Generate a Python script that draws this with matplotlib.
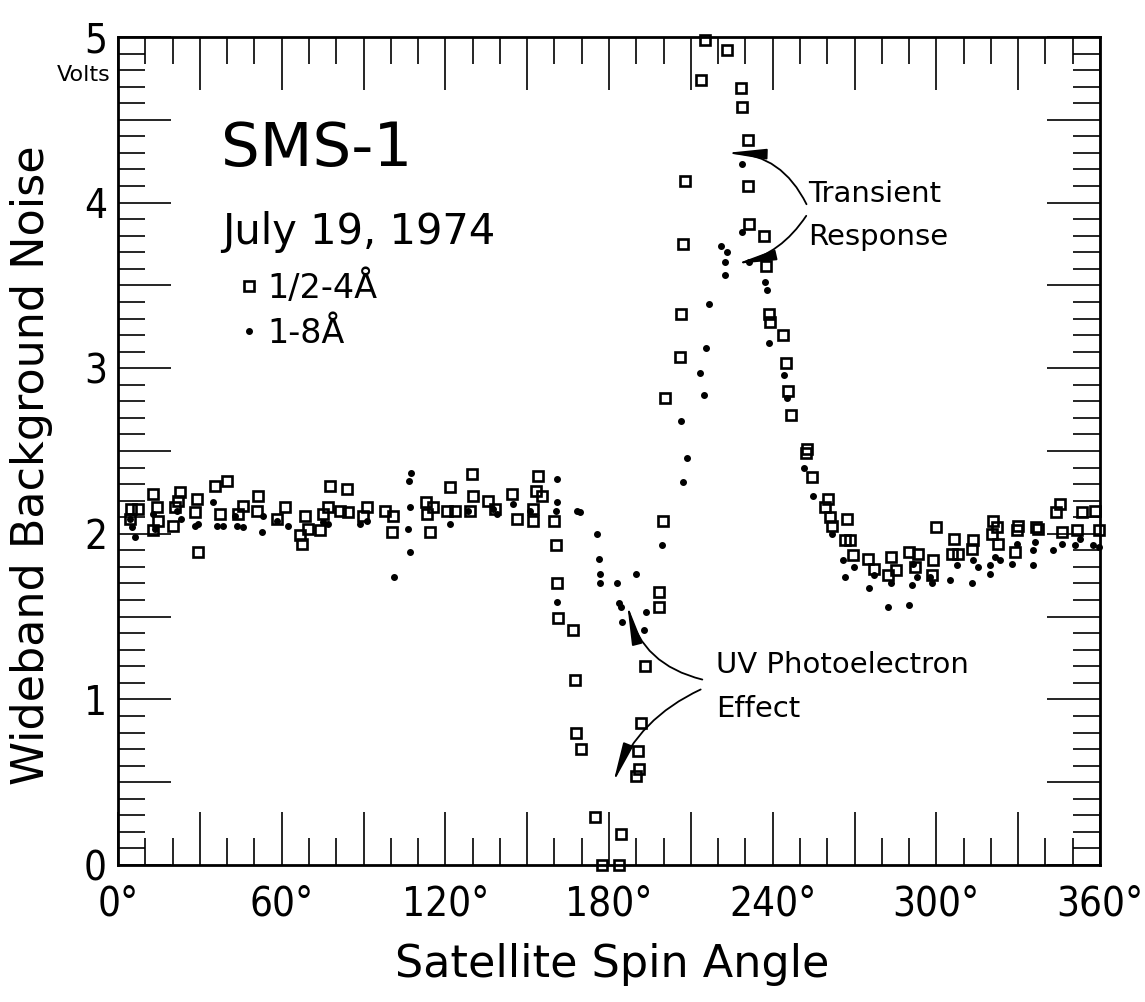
import matplotlib
matplotlib.use('Agg')
import matplotlib.pyplot as plt
from matplotlib import font_manager
import numpy as np

# 1/2-4 A channel (open squares): spin angle in degrees, noise in volts
sq_angle = [4.9, 7.3, 4.3, 12.8, 14.2, 14.6, 12.8, 22.7, 21.9, 20.8, 20.1, 28.9, 28.2, 29.3,
            35.5, 39.9, 37.3, 43.9, 45.7, 51.3, 50.9, 61.1, 58.2, 68.5, 69.6, 66.6, 67.4,
            74.0, 77.6, 76.9, 75.1, 83.9, 81.3, 84.2, 91.2, 89.7, 97.8, 100.7, 100.4,
            112.8, 113.2, 114.3, 115.4, 121.7, 120.5, 123.5, 129.7, 130.1, 129.0, 135.6,
            138.2, 144.4, 146.3, 154.0, 153.3, 155.5, 152.2, 152.2, 159.9, 160.6, 161.0,
            161.4, 166.9, 167.7, 168.0, 169.9, 175.0, 184.3, 177.5, 183.7, 198.3, 198.3,
            193.2, 191.6, 190.6, 190.9, 189.8, 199.8, 200.6, 205.9, 206.4, 207.1, 207.9,
            213.6, 215.2, 223.4, 228.3, 228.6, 230.8, 231.0, 231.3, 236.8, 237.7, 238.7,
            239.0, 243.9, 244.8, 245.7, 246.6, 252.3, 252.6, 254.3, 260.2, 259.1, 261.0,
            261.8, 267.3, 266.6, 268.5, 269.3, 274.8, 277.0, 283.2, 282.2, 285.1, 289.8,
            293.1, 292.0, 298.6, 298.4, 300.0, 306.3, 305.9, 308.1, 313.6, 312.9, 320.8,
            322.3, 320.4, 322.7, 330.0, 329.6, 329.0, 336.6, 337.3, 343.8, 345.3, 346.0,
            353.4, 358.1, 351.5, 359.5]
sq_volts = [2.15, 2.15, 2.09, 2.24, 2.16, 2.08, 2.02, 2.25, 2.20, 2.16, 2.05, 2.21, 2.13, 1.89,
            2.29, 2.32, 2.12, 2.12, 2.17, 2.23, 2.14, 2.16, 2.09, 2.11, 2.03, 1.99, 1.94,
            2.02, 2.29, 2.16, 2.12, 2.27, 2.14, 2.13, 2.16, 2.11, 2.14, 2.11, 2.01,
            2.19, 2.12, 2.01, 2.16, 2.28, 2.14, 2.14, 2.36, 2.23, 2.14, 2.20,
            2.15, 2.24, 2.09, 2.35, 2.26, 2.23, 2.15, 2.08, 2.08, 1.93, 1.70,
            1.49, 1.42, 1.12, 0.80, 0.70, 0.29, 0.19, 0.00, 0.00, 1.65, 1.56,
            1.20, 0.86, 0.69, 0.58, 0.54, 2.08, 2.82, 3.07, 3.33, 3.75, 4.13,
            4.74, 4.98, 4.92, 4.69, 4.58, 4.38, 4.10, 3.87, 3.80, 3.62, 3.33,
            3.28, 3.20, 3.03, 2.86, 2.72, 2.49, 2.51, 2.34, 2.21, 2.16, 2.10,
            2.05, 2.09, 1.96, 1.96, 1.87, 1.85, 1.79, 1.86, 1.75, 1.78, 1.89,
            1.88, 1.80, 1.84, 1.75, 2.04, 1.97, 1.88, 1.88, 1.96, 1.91, 2.08,
            2.04, 2.00, 1.94, 2.05, 2.02, 1.89, 2.04, 2.03, 2.13, 2.18, 2.01,
            2.13, 2.14, 2.02, 2.02]

# 1-8 A channel (dots)
dot_angle = [4.3, 5.1, 6.2, 12.8, 13.5, 21.6, 23.0, 29.3, 28.2, 34.8, 36.2, 38.5, 43.5, 45.7,
             42.8, 52.7, 53.1, 58.2, 62.2, 75.1, 76.9, 88.6, 91.2, 101.1, 107.3, 106.6,
             107.0, 106.2, 107.0, 121.6, 128.3, 137.5, 138.9, 144.8, 151.0, 160.9, 160.9,
             160.5, 168.2, 169.3, 175.5, 176.3, 176.7, 176.7, 182.9, 189.8, 199.5, 160.9,
             183.6, 184.3, 184.6, 193.7, 192.7, 206.3, 208.6, 207.0, 213.4, 214.8, 215.4,
             216.6, 221.1, 223.3, 222.6, 222.4, 231.4, 228.7, 228.9, 237.1, 237.8, 238.5,
             244.2, 245.4, 251.3, 254.7, 261.9, 265.7, 269.7, 266.4, 275.3, 277.1, 282.4,
             290.1, 283.5, 291.0, 292.8, 291.6, 298.4, 297.7, 305.0, 307.5, 313.1, 315.3,
             313.4, 319.7, 319.7, 321.5, 323.3, 327.7, 329.6, 335.4, 335.4, 336.2, 342.8,
             346.1, 350.8, 352.7, 357.4, 359.5]
dot_volts = [2.09, 2.04, 1.98, 2.12, 2.03, 2.14, 2.09, 2.06, 2.05, 2.19, 2.05, 2.05, 2.05, 2.04,
             2.11, 2.01, 2.11, 2.08, 2.05, 2.07, 2.06, 2.06, 2.08, 1.74, 2.37, 2.32,
             2.16, 2.03, 1.89, 2.06, 2.14, 2.15, 2.12, 2.18, 2.14, 2.33, 2.19,
             2.14, 2.14, 2.13, 2.00, 1.85, 1.76, 1.70, 1.70, 1.76, 1.93, 1.59,
             1.58, 1.56, 1.47, 1.53, 1.42, 2.68, 2.46, 2.31, 2.97, 2.84, 3.12,
             3.39, 3.74, 3.70, 3.64, 3.56, 3.64, 4.23, 3.82, 3.52, 3.47, 3.15,
             2.96, 2.82, 2.40, 2.23, 2.00, 1.84, 1.80, 1.74, 1.67, 1.75, 1.56,
             1.57, 1.70, 1.69, 1.74, 1.82, 1.70, 1.74, 1.72, 1.81, 1.70, 1.80,
             1.84, 1.76, 1.81, 1.86, 1.84, 1.82, 1.94, 1.81, 1.90, 1.95, 1.90,
             1.94, 1.93, 1.97, 1.93, 1.92]

x_ticks = list(range(0, 361, 30))
x_labels = [f'{a}°' if a % 60 == 0 else '' for a in x_ticks]
y_ticks = [v / 2 for v in range(0, 11)]
y_labels = [str(int(v)) if v == int(v) else '' for v in y_ticks]

# arrows: (text end, tip, bend) in data units
transient_arrows = [((252.4, 3.99), (223.1, 4.30), 0.3),
                    ((252.3, 3.92), (226.7, 3.63), -0.2)]
uv_arrows = [((214.2, 1.12), (186.7, 1.57), -0.3),
             ((213.6, 1.06), (181.6, 0.50), 0.2)]

# look for a narrow sans face for the tick numbers
narrow = None
for f in font_manager.fontManager.ttflist:
    if f.style != 'normal' or f.weight not in (400, 'normal', 'regular'):
        continue
    if f.name in ('Liberation Sans Narrow', 'Roboto Condensed', 'Open Sans Condensed') or \
       (str(f.stretch) in ('condensed', 'semi-condensed', 'extra-condensed')
        and f.name in ('Noto Sans', 'DejaVu Sans', 'Open Sans', 'Roboto', 'Lato', 'Inter')):
        narrow = f
        break

if narrow is not None:
    tick_prop = font_manager.FontProperties(fname=narrow.fname, size=29)
else:
    tick_prop = font_manager.FontProperties(family='DejaVu Sans', size=22)

plt.rcParams['font.family'] = ['DejaVu Sans']

fig = plt.figure(figsize=(11.45, 10.02), dpi=100)
ax = fig.add_axes([0.1031, 0.1367, 0.8576, 0.8264])

sq, = ax.plot(sq_angle, sq_volts, linestyle='none', marker='s', markersize=6.8,
              markerfacecolor='none', markeredgecolor='black', markeredgewidth=1.9,
              clip_on=False, label='1/2-4Å')
dots, = ax.plot(dot_angle, dot_volts, linestyle='none', marker='o', markersize=4,
                color='black', clip_on=False, label='1-8Å')

ax.set_xlim(0, 360)
ax.set_ylim(0, 5)
ax.set_xticks(x_ticks, x_labels, fontproperties=tick_prop)
ax.set_xticks(range(0, 361, 10), minor=True)
ax.set_yticks(y_ticks, y_labels, fontproperties=tick_prop)
ax.set_yticks([v / 10 for v in range(0, 51)], minor=True)
ax.tick_params(which='both', direction='in', top=True, right=True, width=1.2)
ax.tick_params(which='major', length=38)
ax.tick_params(which='minor', length=19.5)
ax.tick_params(axis='x', which='major', pad=14)
ax.tick_params(axis='y', which='major', pad=8)
for s in ax.spines.values():
    s.set_linewidth(2)

ax.text(37.8, 4.32, 'SMS-1', fontsize=44, ha='left', va='center')
ax.text(38.3, 3.82, 'July 19, 1974', fontsize=30, ha='left', va='center')

ax.legend(handles=[sq, dots], loc='upper left', bbox_to_anchor=(0.125, 0.718),
          frameon=False, fontsize=24, handlelength=0.5, handletextpad=0.3,
          labelspacing=0.35, borderpad=0, borderaxespad=0)

ax.text(253.1, 4.05, 'Transient', fontsize=21, ha='left', va='center')
ax.text(253.1, 3.79, 'Response', fontsize=21, ha='left', va='center')
ax.text(219.4, 1.21, 'UV Photoelectron', fontsize=21, ha='left', va='center')
ax.text(219.4, 0.94, 'Effect', fontsize=21, ha='left', va='center')

for start, tip, rad in transient_arrows + uv_arrows:
    ax.annotate('', xy=tip, xytext=start,
                arrowprops=dict(arrowstyle='-|>,head_length=1.2,head_width=0.16',
                                connectionstyle=f'arc3,rad={rad}', color='black',
                                lw=1.3, mutation_scale=20, shrinkA=0, shrinkB=0))

fig.text(57 / 1145, 1 - 75 / 1002, 'Volts', fontsize=16, ha='left', va='center')
fig.text(32 / 1145, 1 - 465 / 1002, 'Wideband Background Noise', fontsize=32,
         rotation=90, ha='center', va='center')
fig.text(612 / 1145, 1 - 965 / 1002, 'Satellite Spin Angle', fontsize=32,
         ha='center', va='center')

fig.savefig('out.png', dpi=100)
